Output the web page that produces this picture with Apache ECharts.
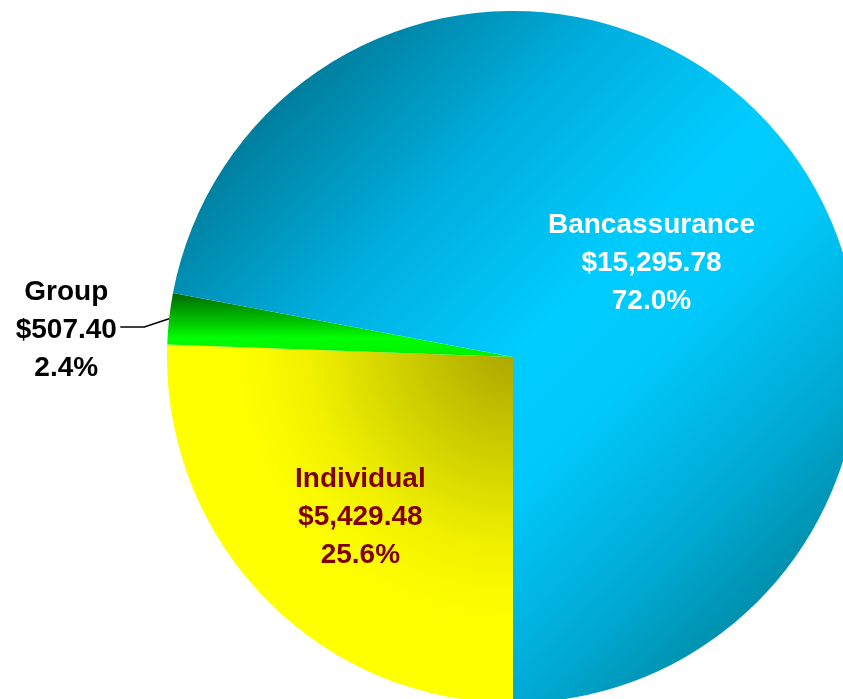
<!DOCTYPE html>
<html>
<head>
<meta charset="utf-8">
<script src="https://cdn.jsdelivr.net/npm/echarts@6/dist/echarts.min.js"></script>
<style>
html,body{margin:0;padding:0;background:#fff;}
#chart{width:843px;height:699px;}
</style>
</head>
<body>
<div id="chart"></div>
<script>
var categories = ['Individual', 'Group', 'Bancassurance'];
var values = [5429.48, 507.40, 15295.78];
var labelColors = ['#800000', '#000000', '#ffffff'];

var total = values.reduce(function (a, b) { return a + b; }, 0);
function money(v) {
  return '$' + v.toFixed(2).replace(/\B(?=(\d{3})+(?!\d))/g, ',');
}

var gradients = [
  { type: 'radial', x: 1, y: 0, r: 1, colorStops: [
    { offset: 0, color: '#aaa400' }, { offset: 0.3, color: '#cccc00' },
    { offset: 0.6, color: '#f2f200' }, { offset: 0.8, color: '#ffff00' }, { offset: 1, color: '#ffff00' }] },
  { type: 'linear', x: 0, y: 0, x2: 0, y2: 1, colorStops: [
    { offset: 0, color: '#006800' }, { offset: 0.45, color: '#00c400' },
    { offset: 0.7, color: '#00ff00' }, { offset: 1, color: '#00f000' }] },
  { type: 'linear', x: 0, y: 0, x2: 1, y2: 1, colorStops: [
    { offset: 0, color: '#006a88' }, { offset: 0.15, color: '#0080a0' },
    { offset: 0.33, color: '#00b0e0' }, { offset: 0.5, color: '#00ccff' },
    { offset: 0.6, color: '#00c8fa' }, { offset: 0.75, color: '#00aad4' },
    { offset: 0.87, color: '#008ca8' }, { offset: 1, color: '#006f88' }] }
];

var data = categories.map(function (c, i) {
  var item = {
    name: c,
    value: values[i],
    itemStyle: { color: gradients[i] },
    label: { color: labelColors[i] }
  };
  if (i === 1) {
    item.label.position = 'outside';
    item.labelLine = { show: true, length: 25, length2: 24, lineStyle: { color: '#000', width: 1.5 } };
  }
  return item;
});

var chart = echarts.init(document.getElementById('chart'), null, { renderer: 'canvas' });
chart.setOption({
  animation: false,
  backgroundColor: '#ffffff',
  series: [{
    type: 'pie',
    center: [513, 357],
    radius: 346,
    startAngle: 270,
    clockwise: true,
    avoidLabelOverlap: false,
    itemStyle: { borderWidth: 0 },
    label: {
      show: true,
      position: 'inside',
      fontFamily: 'Liberation Sans, Arial, sans-serif',
      fontWeight: 'bold',
      fontSize: 28,
      lineHeight: 38,
      formatter: function (p) {
        var pct = (p.value / total * 100).toFixed(1) + '%';
        return '{a|' + p.name + '\n' + money(p.value) + '\n' + pct + '}';
      },
      rich: {
        a: {
          fontFamily: 'Liberation Sans, Arial, sans-serif',
          fontWeight: 'bold',
          fontSize: 28,
          lineHeight: 38,
          width: 104,
          align: 'center'
        }
      }
    },
    labelLayout: function (params) {
      if (params.dataIndex === 2) return { dx: 3, dy: 19 };
      if (params.dataIndex === 0) return { dx: -26, dy: 38 };
      var pts = params.labelLinePoints;
      var res = { dx: 3, dy: 14 };
      if (pts && pts.length === 3) {
        res.labelLinePoints = [
          [pts[0][0], pts[0][1]],
          [pts[1][0], pts[1][1] + 11],
          [pts[2][0], pts[2][1] + 11]
        ];
      }
      return res;
    },
    emphasis: { disabled: true },
    data: data
  }]
});
</script>
</body>
</html>
